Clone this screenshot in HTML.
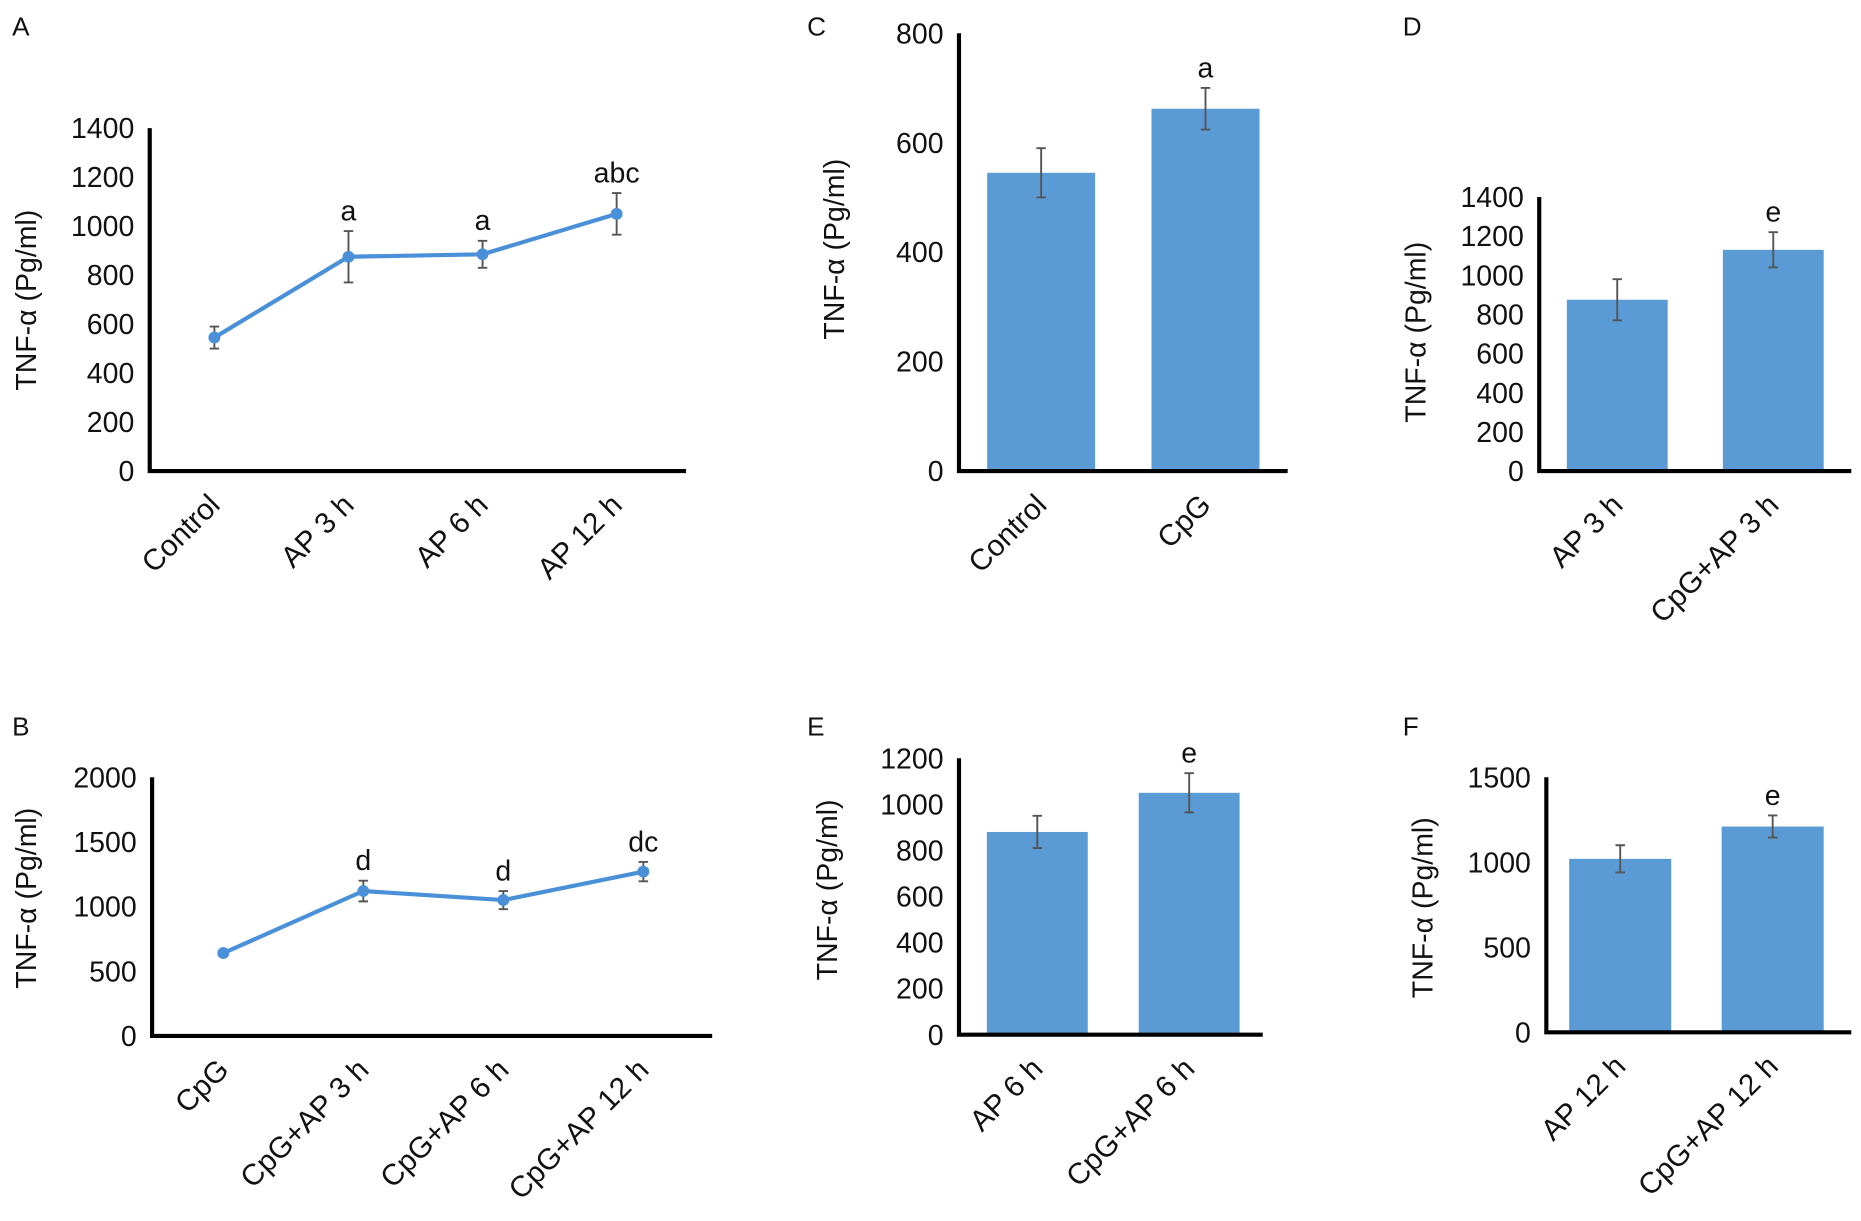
<!DOCTYPE html>
<html><head><meta charset="utf-8"><style>
html,body{margin:0;padding:0;background:#fff;}
svg{display:block;font-family:"Liberation Sans",Arial,sans-serif;}
</style></head><body>
<svg id="fig" width="1861" height="1221" viewBox="0 0 1568 1029" xmlns="http://www.w3.org/2000/svg"></svg>
<script>
// Panel A data
const aCats = ["Control","AP 3 h","AP 6 h","AP 12 h"];
const aVals = [545, 875, 885, 1050];
const aErrs = [45, 105, 55, 85];
const aSig = ["", "a", "a", "abc"];
const aTicks = [0,200,400,600,800,1000,1200,1400];
// Panel B data
const bCats = ["CpG","CpG+AP 3 h","CpG+AP 6 h","CpG+AP 12 h"];
const bVals = [640, 1120, 1050, 1270];
const bErrs = [20, 80, 70, 75];
const bSig = ["", "d", "d", "dc"];
const bTicks = [0,500,1000,1500,2000];
// Panel C data
const cCats = ["Control","CpG"];
const cVals = [545, 662];
const cErrs = [45, 38];
const cSig = ["", "a"];
const cTicks = [0,200,400,600,800];
// Panel D data
const dCats = ["AP 3 h","CpG+AP 3 h"];
const dVals = [875, 1130];
const dErrs = [105, 90];
const dSig = ["", "e"];
const dTicks = [0,200,400,600,800,1000,1200,1400];
// Panel E data
const eCats = ["AP 6 h","CpG+AP 6 h"];
const eVals = [880, 1050];
const eErrs = [70, 85];
const eSig = ["", "e"];
const eTicks = [0,200,400,600,800,1000,1200];
// Panel F data
const fCats = ["AP 12 h","CpG+AP 12 h"];
const fVals = [1020, 1210];
const fErrs = [80, 65];
const fSig = ["", "e"];
const fTicks = [0,500,1000,1500];

const NS = "http://www.w3.org/2000/svg";
const svg = document.getElementById('fig');
function mk(tag, attrs, parent, text){
  const e = document.createElementNS(NS, tag);
  for (const k in attrs) e.setAttribute(k, attrs[k]);
  if (text !== undefined) e.textContent = text;
  (parent||svg).appendChild(e);
  return e;
}

function panel(cfg){
  const g = mk('g', {});
  
  
  const max = cfg.ticks[cfg.ticks.length-1];
  const y = v => cfg.y0 - (v/max)*(cfg.y0 - cfg.yTop);
  const n = cfg.cats.length;
  const step = (cfg.xEnd - cfg.x0) / n;
  const x = i => cfg.x0 + step*(i+0.5) + (cfg.xShift||0);

  const lt = mk('text', {x: cfg.lx, y: cfg.ly, 'font-size': 22, fill: '#111'}, g, cfg.letter);
  
  

  cfg.ticks.forEach(t => {
    const tt = mk('text', {x: cfg.x0 - 13, y: y(t) + 8.5, 'font-size': 24, 'text-anchor': 'end', fill: '#111'}, g, String(t));
    
    
  });
  const yt = mk('text', {x: 0, y: 0, 'font-size': 24, 'text-anchor': 'middle', fill: '#111', transform: `translate(${cfg.tx},${cfg.ty}) rotate(-90)`}, g, 'TNF-α (Pg/ml)');
  
  

  if (cfg.type === 'bar'){
    cfg.vals.forEach((v,i) => {
      const bw = cfg.bw;
      const r = mk('rect', {x: x(i)-bw/2, y: y(v), width: bw, height: cfg.y0 - y(v), fill: '#5b9bd5'}, g);
      
      
    });
  } else {
    const pts = cfg.vals.map((v,i) => x(i)+','+y(v)).join(' ');
    const pl = mk('polyline', {points: pts, fill: 'none', stroke: '#4a90d9', 'stroke-width': 3.5}, g);
    
    
  }
  cfg.vals.forEach((v,i) => {
    const e = cfg.errs[i], cx = x(i);
    const eb = mk('path', {d: `M${cx},${y(v+e)}V${y(v-e)}M${cx-4},${y(v+e)}H${cx+4}M${cx-4},${y(v-e)}H${cx+4}`, stroke: '#555', 'stroke-width': 1.6, fill: 'none'}, g);
    
    
    if (cfg.type !== 'bar'){
      const c = mk('circle', {cx: cx, cy: y(v), r: 5, fill: '#4a90d9'}, g);
      
      
    }
    if (cfg.sig[i]){
      const s = mk('text', {x: cx, y: y(v+e) - 9, 'font-size': 24, 'text-anchor': 'middle', fill: '#111'}, g, cfg.sig[i]);
      
      
    }
    const xl = mk('text', {x: 0, y: 0, 'font-size': 25, 'text-anchor': 'end', fill: '#111', transform: `translate(${cx+6},${cfg.y0+30}) rotate(-45)`}, g, cfg.cats[i]);
    
    
  });
  const ax = mk('path', {d: `M${cfg.x0},${cfg.yTop}V${cfg.y0}H${cfg.xEnd}`, stroke: '#000', 'stroke-width': 3.5, fill: 'none'}, g);
  
  
}

panel({letter:'A', lx:10, ly:30, type:'line', cats:aCats, vals:aVals, errs:aErrs, sig:aSig, ticks:aTicks,
  x0:126, xEnd:578, y0:397, yTop:108, tx:30, ty:253, xShift:-2});
panel({letter:'B', lx:10, ly:620, type:'line', cats:bCats, vals:bVals, errs:bErrs, sig:bSig, ticks:bTicks,
  x0:128, xEnd:600, y0:873, yTop:655, tx:30, ty:757, xShift:1});
panel({letter:'C', lx:680, ly:30, type:'bar', cats:cCats, vals:cVals, errs:cErrs, sig:cSig, ticks:cTicks,
  x0:808, xEnd:1085, y0:397, yTop:28, tx:711, ty:210, bw:91, xShift:0});
panel({letter:'D', lx:1182, ly:30, type:'bar', cats:dCats, vals:dVals, errs:dErrs, sig:dSig, ticks:dTicks,
  x0:1297, xEnd:1560, y0:397, yTop:166, tx:1201, ty:280, bw:85, xShift:0});
panel({letter:'E', lx:680, ly:620, type:'bar', cats:eCats, vals:eVals, errs:eErrs, sig:eSig, ticks:eTicks,
  x0:808, xEnd:1064, y0:872, yTop:639, tx:705, ty:750, bw:85, xShift:2});
panel({letter:'F', lx:1182, ly:620, type:'bar', cats:fCats, vals:fVals, errs:fErrs, sig:fSig, ticks:fTicks,
  x0:1303, xEnd:1560, y0:870, yTop:655, tx:1207, ty:765, bw:86, xShift:-2});
</script>
</body></html>
